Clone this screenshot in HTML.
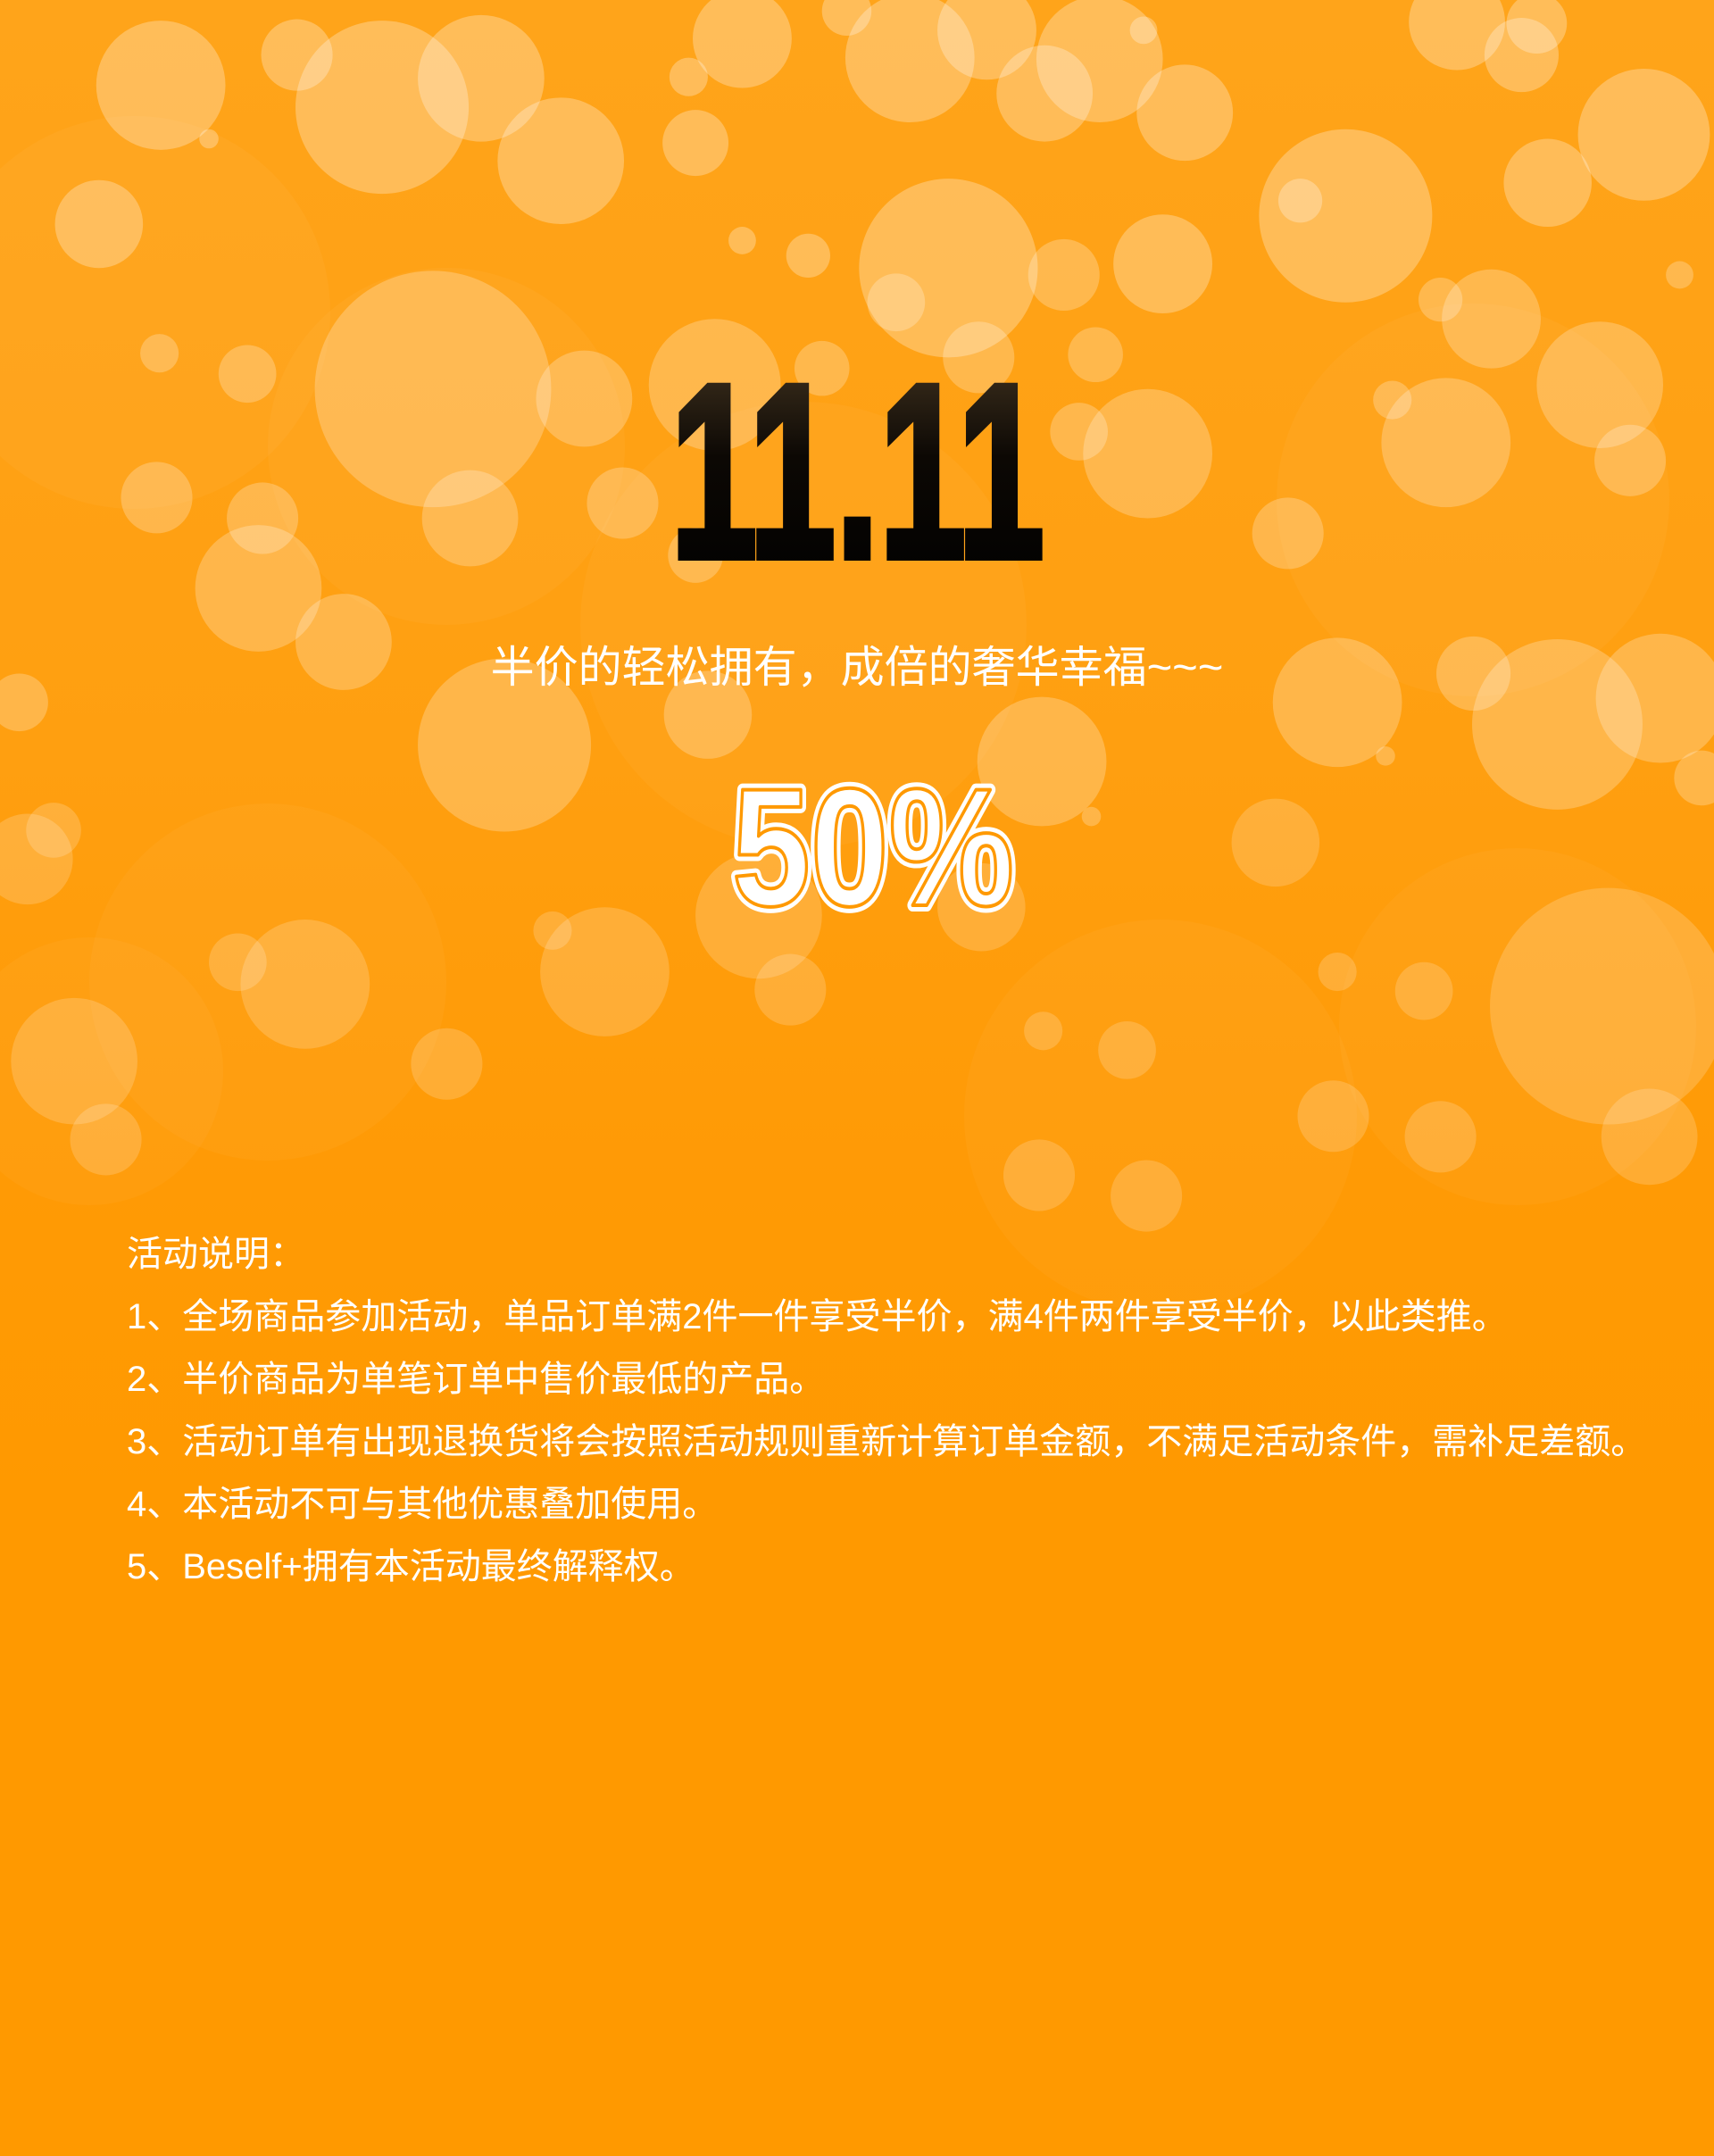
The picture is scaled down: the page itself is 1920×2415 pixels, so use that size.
<!DOCTYPE html>
<html><head><meta charset="utf-8">
<style>
html,body{margin:0;padding:0;}
body{width:1920px;height:2415px;overflow:hidden;position:relative;
background:linear-gradient(180deg,#ffa41a 0%,#ff9f10 35%,#ff9a05 55%,#ff9900 70%,#ff9900 100%);
font-family:"Liberation Sans","Noto Sans CJK SC",sans-serif;}
#bokeh{position:absolute;left:0;top:0;}
.sub{position:absolute;left:0;width:1920px;top:718px;text-align:center;color:#fff;font-size:49px;line-height:60px;}
.rules{position:absolute;left:142px;top:1370px;color:#fff;font-size:40px;line-height:70px;}
.rules div{white-space:nowrap;}
</style></head>
<body>
<svg id="bokeh" width="1920" height="2415"></svg>
<svg width="1920" height="1100" style="position:absolute;left:0;top:0">
<defs>
<linearGradient id="g11" x1="0" y1="0" x2="0" y2="1">
<stop offset="0" stop-color="#4a3a24"/><stop offset="0.45" stop-color="#0c0804"/><stop offset="1" stop-color="#000"/>
</linearGradient>
</defs>
<text x="751" y="624" textLength="419" lengthAdjust="spacingAndGlyphs" font-family="Liberation Sans" font-weight="bold" font-size="278" fill="url(#g11)" stroke="url(#g11)" stroke-width="8">11.11</text>
<text x="820" y="1014" textLength="316" lengthAdjust="spacingAndGlyphs" font-family="Liberation Sans" font-weight="bold" font-size="188" fill="#fff" stroke="#fff" stroke-width="14" stroke-linejoin="round">50%</text>
<text x="820" y="1014" textLength="316" lengthAdjust="spacingAndGlyphs" font-family="Liberation Sans" font-weight="bold" font-size="188" fill="#fff" stroke="#ff9900" stroke-width="4" stroke-linejoin="round">50%</text>
</svg>
<div class="sub">半价的轻松拥有，成倍的奢华幸福~~~</div>
<div class="rules">
<div>活动说明：</div>
<div>1、全场商品参加活动，单品订单满2件一件享受半价，满4件两件享受半价，以此类推。</div>
<div>2、半价商品为单笔订单中售价最低的产品。</div>
<div>3、活动订单有出现退换货将会按照活动规则重新计算订单金额，不满足活动条件，需补足差额。</div>
<div>4、本活动不可与其他优惠叠加使用。</div>
<div>5、Beself+拥有本活动最终解释权。</div>
</div>
<script>
var circles=[[117,62,47],[278,78,63],[350,57,46],[408,117,46],[72,163,32],[152,101,7],[216,40,26],[540,28,36],[506,104,24],[501,56,14],[616,8,18],[662,42,47],[760,68,35],[800,43,46],[862,82,35],[718,22,36],[832,22,10],[1060,16,35],[1107,40,27],[1118,17,22],[1196,98,48],[1126,133,32],[979,157,63],[946,146,16],[1085,232,36],[1048,218,16],[1164,280,46],[1186,335,26],[1222,200,10],[1052,322,47],[1013,291,14],[690,195,65],[652,220,21],[588,186,16],[540,175,10],[774,200,26],[846,192,36],[797,258,20],[835,330,47],[785,314,21],[712,260,26],[598,268,20],[520,280,48],[425,290,35],[315,283,86],[180,272,21],[116,257,14],[114,362,26],[191,377,26],[188,428,46],[250,467,35],[342,377,35],[453,366,26],[506,404,20],[937,388,26],[14,511,21],[367,542,63],[515,520,32],[758,554,47],[973,511,47],[1133,527,62],[1072,490,27],[1208,508,47],[1008,550,7],[1238,566,20],[20,625,33],[39,604,20],[928,613,32],[552,666,46],[714,660,32],[794,594,7],[440,707,47],[402,677,14],[575,720,26],[222,716,47],[173,700,21],[54,772,46],[77,829,26],[325,774,26],[759,750,14],[820,764,21],[973,707,14],[1036,721,21],[1170,732,86],[1048,827,26],[1200,827,35],[970,812,26],[834,870,26],[756,855,26]];
var k=1920/1247;
var svg=document.getElementById('bokeh');
var ns='http://www.w3.org/2000/svg';
var glows=[[150,350,220],[500,500,200],[900,700,250],[1650,560,220],[300,1100,200],[1300,1250,220],[1700,1150,200],[100,1200,150]];
glows.forEach(function(g){
 var c=document.createElementNS(ns,'circle');
 
 
 c.setAttribute('cx',g[0]);c.setAttribute('cy',g[1]);c.setAttribute('r',g[2]);
 c.setAttribute('fill','rgba(255,255,255,0.035)');
 svg.appendChild(c);
});
circles.forEach(function(d,i){
 var c=document.createElementNS(ns,'circle');
 
 
 c.setAttribute('cx',d[0]*k);c.setAttribute('cy',d[1]*k);c.setAttribute('r',d[2]*k);
 var a=d[1]<200?0.28:(d[1]<600?0.24:0.18);
 c.setAttribute('fill','rgba(255,255,255,'+a+')');
 svg.appendChild(c);
});
</script>
</body></html>
